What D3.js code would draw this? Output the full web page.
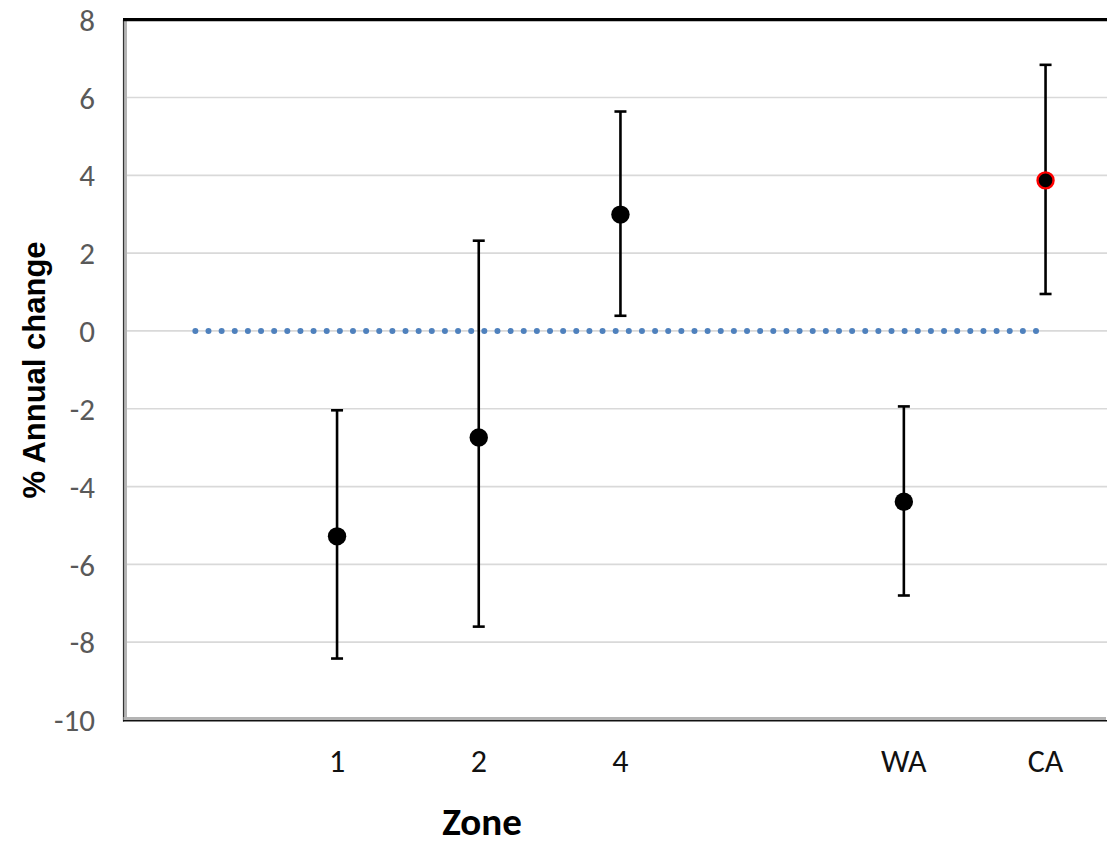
<!DOCTYPE html>
<html>
<head>
<meta charset="utf-8">
<script src="https://cdn.jsdelivr.net/npm/d3@7"></script>
<style>
  body { margin: 0; background: #fff; }
  svg { display: block; }
</style>
</head>
<body>
<svg id="chart" width="1107" height="848"></svg>
<script>
// categories along the x axis (empty slots are spacing in the original)
var zones = ['', '1', '2', '4', '', 'WA', 'CA'];
// mean % annual change per zone, null = no point
var means = [null, -5.28, -2.74, 2.99, null, -4.39, 3.87];
var upper = [null, -2.04, 2.32, 5.64, null, -1.94, 6.84];
var lower = [null, -8.42, -7.60, 0.39, null, -6.80, 0.95];
// highlighted point (red outline)
var highlight = [false, false, false, false, false, false, true];
// reference zero series
var zeroLine = [0, 0, 0, 0, 0, 0, 0];
var yTicks = [8, 6, 4, 2, 0, -2, -4, -6, -8, -10];

var svg = d3.select('#chart');
var plotL = 124.5, plotT = 19.7, plotB = 720;

var x = d3.scaleBand()
  .domain(d3.range(zones.length))
  .range([plotL, plotL + 141.7 * zones.length])
  .paddingInner(0).paddingOuter(0);
var cx = function(i){ return x(i) + x.bandwidth() / 2; };

var y = d3.scaleLinear().domain([-10, 8]).range([plotB, plotT]);

// gridlines
svg.append('g').selectAll('line')
  .data(yTicks.filter(function(d){ return d > -10 && d < 8; }))
  .enter().append('line')
  .attr('x1', plotL + 2).attr('x2', 1107)
  .attr('y1', function(d){ return y(d); })
  .attr('y2', function(d){ return y(d); })
  .attr('stroke', '#d9d9d9')
  .attr('stroke-width', 1.7);

// y tick labels
svg.append('g').selectAll('text')
  .data(yTicks)
  .enter().append('text')
  .attr('x', 95)
  .attr('y', function(d){ return y(d); })
  .attr('dy', '0.36em')
  .attr('text-anchor', 'end')
  .attr('font-family', "Carlito, 'Open Sans', sans-serif")
  .attr('font-size', 31)
  .attr('fill', '#595959')
  .text(function(d){ return d; });

// x tick labels
svg.append('g').selectAll('text')
  .data(zones)
  .enter().append('text')
  .attr('x', function(d, i){ return cx(i); })
  .attr('y', 772)
  .attr('text-anchor', 'middle')
  .attr('font-family', "Carlito, 'Open Sans', sans-serif")
  .attr('font-size', 32)
  .attr('fill', '#111')
  .text(function(d){ return d; });

// frame: left + bottom gray 3d-ish, top black
svg.append('rect').attr('x', plotL - 0.5).attr('y', plotT).attr('width', 3).attr('height', plotB - plotT)
  .attr('fill', '#b4b4b4');
svg.append('line').attr('x1', plotL - 1).attr('x2', plotL - 1).attr('y1', plotT).attr('y2', plotB + 1.5)
  .attr('stroke', '#333').attr('stroke-width', 1.2);
svg.append('rect').attr('x', plotL - 1).attr('y', plotB - 3).attr('width', 1107 - plotL).attr('height', 3)
  .attr('fill', '#b4b4b4');
svg.append('line').attr('x1', plotL - 1.5).attr('x2', 1107).attr('y1', plotB + 0.8).attr('y2', plotB + 0.8)
  .attr('stroke', '#111').attr('stroke-width', 1.4);
svg.append('line').attr('x1', plotL - 1.5).attr('x2', 1107).attr('y1', plotT).attr('y2', plotT)
  .attr('stroke', '#000').attr('stroke-width', 3.2);

// dotted zero series
var zeroPath = d3.line()
  .x(function(d, i){ return cx(i); })
  .y(function(d){ return y(d); });
svg.append('path')
  .datum(zeroLine)
  .attr('d', zeroPath)
  .attr('fill', 'none')
  .attr('stroke', '#4f81bd')
  .attr('stroke-width', 6)
  .attr('stroke-linecap', 'round')
  .attr('stroke-dasharray', '0.01 13.125');

// error bars
var idx = d3.range(zones.length).filter(function(i){ return means[i] !== null; });
var eb = svg.append('g').attr('stroke', '#000').attr('stroke-width', 2.6);
eb.selectAll('.stem').data(idx).enter().append('line')
  .attr('x1', cx).attr('x2', cx)
  .attr('y1', function(i){ return y(upper[i]); })
  .attr('y2', function(i){ return y(lower[i]); });
eb.selectAll('.capu').data(idx).enter().append('line')
  .attr('x1', function(i){ return cx(i) - 6; }).attr('x2', function(i){ return cx(i) + 6; })
  .attr('y1', function(i){ return y(upper[i]); })
  .attr('y2', function(i){ return y(upper[i]); });
eb.selectAll('.capl').data(idx).enter().append('line')
  .attr('x1', function(i){ return cx(i) - 6; }).attr('x2', function(i){ return cx(i) + 6; })
  .attr('y1', function(i){ return y(lower[i]); })
  .attr('y2', function(i){ return y(lower[i]); });

// markers
svg.append('g').selectAll('circle').data(idx).enter().append('circle')
  .attr('cx', cx)
  .attr('cy', function(i){ return y(means[i]); })
  .attr('r', function(i){ return highlight[i] ? 8 : 9.2; })
  .attr('fill', '#000')
  .attr('stroke', function(i){ return highlight[i] ? '#ff0000' : 'none'; })
  .attr('stroke-width', 2.4);

// axis titles
svg.append('text')
  .attr('transform', 'translate(45,370) rotate(-90)')
  .attr('text-anchor', 'middle')
  .attr('font-family', "'Liberation Sans', Arial, sans-serif")
  .attr('font-weight', 'bold')
  .attr('font-size', 31)
  .attr('fill', '#000')
  .text('% Annual change');

svg.append('text')
  .attr('x', 482)
  .attr('y', 835)
  .attr('text-anchor', 'middle')
  .attr('font-family', "Carlito, 'Open Sans', sans-serif")
  .attr('font-weight', 'bold')
  .attr('font-size', 39)
  .attr('fill', '#000')
  .text('Zone');
</script>
</body>
</html>
